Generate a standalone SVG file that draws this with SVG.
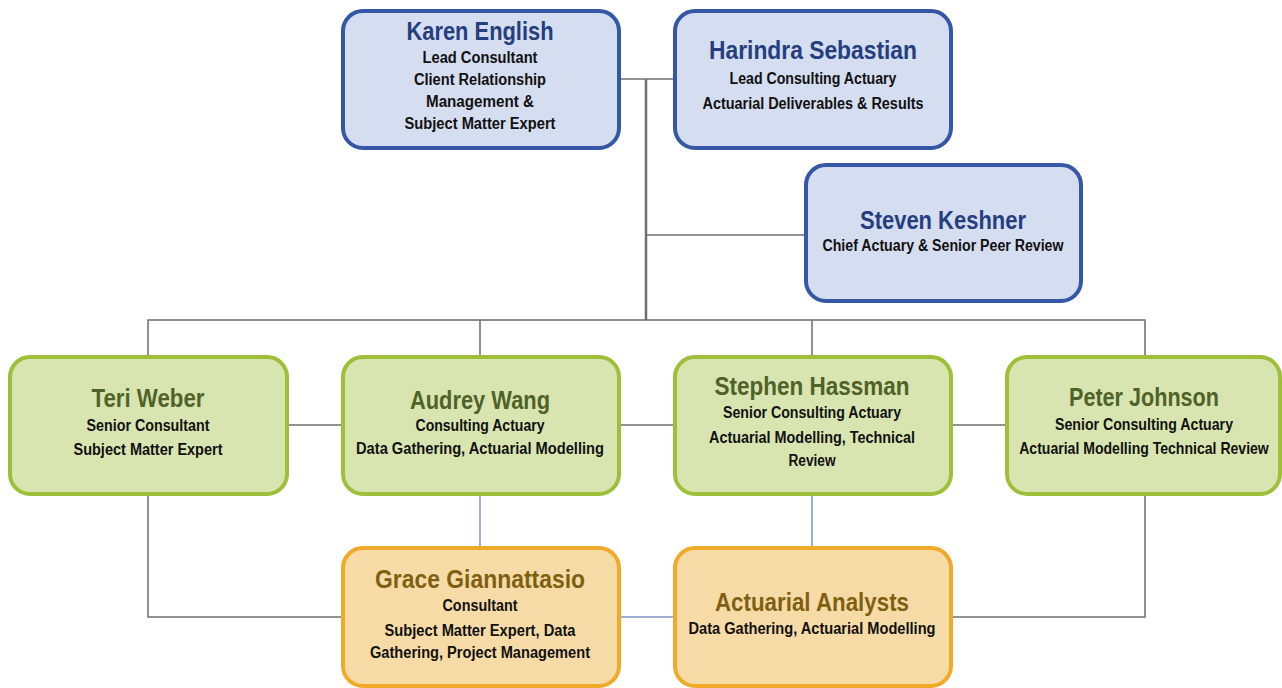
<svg xmlns="http://www.w3.org/2000/svg" width="1282" height="688" viewBox="0 0 1282 688">
<style>
.blue{fill:#D5DDF0;stroke:#3557A5;stroke-width:4}
.green{fill:#D9E5B0;stroke:#9DBF3A;stroke-width:4}
.orange{fill:#F7DBA6;stroke:#EEAA28;stroke-width:4}
text{font-family:"Liberation Sans",Arial,sans-serif;font-weight:bold;text-anchor:middle}
.nb{font-size:25px;fill:#253F7E}
.ng{font-size:25px;fill:#4F6228}
.no{font-size:25px;fill:#7F5F12}
.t{font-size:16px;fill:#111}
.c{fill:none;stroke:#6E6E6E;stroke-width:1.5}
.ct{fill:none;stroke:#6E6E6E;stroke-width:2.5}
.cb{fill:none;stroke:#7F93C6;stroke-width:1.5}
</style>
<rect width="1282" height="688" fill="#fff"/>
<g id="connectors">
<path class="c" d="M619 79H675"/>
<path class="ct" d="M646 79V320"/>
<path class="c" d="M646 235H806"/>
<path class="c" d="M148 357V320H1145V357M480 320V357M812 320V357"/>
<path class="c" d="M287 425H343M619 425H675M951 425H1007"/>
<path class="c" d="M148 494V617H343M1145 494V617H951"/>
<path class="cb" d="M480 494V548M812 494V548M619 617H675"/>
</g>
<g id="karen"><rect class="blue" x="343" y="11" width="276" height="137" rx="20"/>
<text class="nb" x="480" y="40" textLength="147" lengthAdjust="spacingAndGlyphs">Karen English</text>
<text class="t" x="480" y="63" textLength="115" lengthAdjust="spacingAndGlyphs">Lead Consultant</text>
<text class="t" x="480" y="85" textLength="132" lengthAdjust="spacingAndGlyphs">Client Relationship</text>
<text class="t" x="480" y="107" textLength="108" lengthAdjust="spacingAndGlyphs">Management &amp;</text>
<text class="t" x="480" y="129" textLength="151" lengthAdjust="spacingAndGlyphs">Subject Matter Expert</text></g>
<g id="harindra"><rect class="blue" x="675" y="11" width="276" height="137" rx="20"/>
<text class="nb" x="813" y="59" textLength="208" lengthAdjust="spacingAndGlyphs">Harindra Sebastian</text>
<text class="t" x="813" y="84" textLength="167" lengthAdjust="spacingAndGlyphs">Lead Consulting Actuary</text>
<text class="t" x="813" y="109" textLength="221" lengthAdjust="spacingAndGlyphs">Actuarial Deliverables &amp; Results</text></g>
<g id="steven"><rect class="blue" x="806" y="165" width="275" height="136" rx="20"/>
<text class="nb" x="943" y="229" textLength="166" lengthAdjust="spacingAndGlyphs">Steven Keshner</text>
<text class="t" x="943" y="251" textLength="241" lengthAdjust="spacingAndGlyphs">Chief Actuary &amp; Senior Peer Review</text></g>
<g id="teri"><rect class="green" x="10" y="357" width="277" height="137" rx="20"/>
<text class="ng" x="148" y="407" textLength="113" lengthAdjust="spacingAndGlyphs">Teri Weber</text>
<text class="t" x="148" y="431" textLength="123" lengthAdjust="spacingAndGlyphs">Senior Consultant</text>
<text class="t" x="148" y="455" textLength="149" lengthAdjust="spacingAndGlyphs">Subject Matter Expert</text></g>
<g id="audrey"><rect class="green" x="343" y="357" width="276" height="137" rx="20"/>
<text class="ng" x="480" y="409" textLength="140" lengthAdjust="spacingAndGlyphs">Audrey Wang</text>
<text class="t" x="480" y="431" textLength="129" lengthAdjust="spacingAndGlyphs">Consulting Actuary</text>
<text class="t" x="480" y="454" textLength="248" lengthAdjust="spacingAndGlyphs">Data Gathering, Actuarial Modelling</text></g>
<g id="stephen"><rect class="green" x="675" y="357" width="276" height="137" rx="20"/>
<text class="ng" x="812" y="395" textLength="195" lengthAdjust="spacingAndGlyphs">Stephen Hassman</text>
<text class="t" x="812" y="418" textLength="178" lengthAdjust="spacingAndGlyphs">Senior Consulting Actuary</text>
<text class="t" x="812" y="443" textLength="206" lengthAdjust="spacingAndGlyphs">Actuarial Modelling, Technical</text>
<text class="t" x="812" y="466" textLength="47" lengthAdjust="spacingAndGlyphs">Review</text></g>
<g id="peter"><rect class="green" x="1007" y="357" width="273" height="137" rx="20"/>
<text class="ng" x="1144" y="406" textLength="150" lengthAdjust="spacingAndGlyphs">Peter Johnson</text>
<text class="t" x="1144" y="430" textLength="178" lengthAdjust="spacingAndGlyphs">Senior Consulting Actuary</text>
<text class="t" transform="translate(1144 454) scale(0.8 1)" x="0" y="0" textLength="312" lengthAdjust="spacingAndGlyphs">Actuarial Modelling Technical Review</text></g>
<g id="grace"><rect class="orange" x="343" y="548" width="276" height="138" rx="20"/>
<text class="no" x="480" y="588" textLength="210" lengthAdjust="spacingAndGlyphs">Grace Giannattasio</text>
<text class="t" x="480" y="611" textLength="75" lengthAdjust="spacingAndGlyphs">Consultant</text>
<text class="t" x="480" y="636" textLength="191" lengthAdjust="spacingAndGlyphs">Subject Matter Expert, Data</text>
<text class="t" x="480" y="658" textLength="220" lengthAdjust="spacingAndGlyphs">Gathering, Project Management</text></g>
<g id="analysts"><rect class="orange" x="675" y="548" width="276" height="138" rx="20"/>
<text class="no" x="812" y="611" textLength="194" lengthAdjust="spacingAndGlyphs">Actuarial Analysts</text>
<text class="t" x="812" y="634" textLength="247" lengthAdjust="spacingAndGlyphs">Data Gathering, Actuarial Modelling</text></g>
</svg>
